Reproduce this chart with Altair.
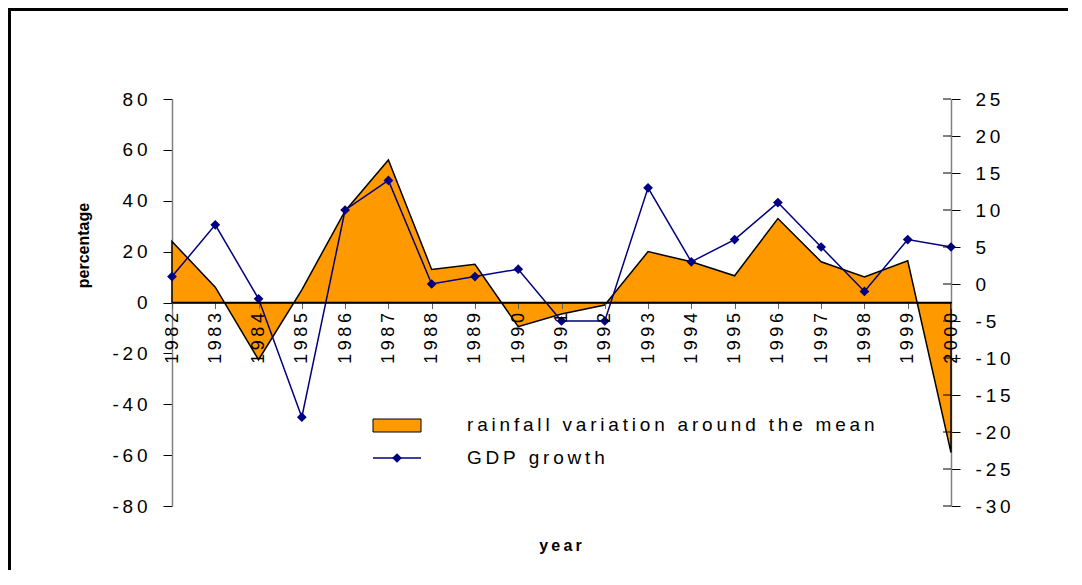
import altair as alt
import pandas as pd

# ---- data ----
years = list(range(1982, 2001))
rainfall = [24, 6, -22.5, 5, 36, 56, 13, 15, -9.5, -4.5, -1, 20, 16, 10.5, 33, 16, 10, 16.4, -59]
gdp = [1, 8, -2, -18, 10, 14, 0, 1, 2, -5, -5, 13, 3, 6, 11, 5, -1, 6, 5]
left_ticks = [-80, -60, -40, -20, 0, 20, 40, 60, 80]
right_ticks = [-30, -25, -20, -15, -10, -5, 0, 5, 10, 15, 20, 25]
legend_labels = ["rainfall variation around the mean", "GDP growth"]
x_title = "year"
y_title = "percentage"

W, H = 779, 407
PAD_L, PAD_T, PAD_R, PAD_B = 164, 91, 117, 64
FONT = "Liberation Sans"
ORANGE = "#FF9900"
NAVY = "#000080"
THIN = "\u2009"


def spaced(s):
    return (THIN + " " + THIN).join(THIN.join(w) for w in s.split(" "))


LABEL_EXPR = "join(split(toString(datum.value), ''), '" + THIN + "')"

df = pd.DataFrame({"year": years, "rainfall": rainfall, "gdp": gdp})
tick_df = pd.DataFrame({"gdp": right_ticks})
one = pd.DataFrame({"a": [0]})

x_enc = alt.X(
    "year:Q",
    scale=alt.Scale(domain=[1982, 2000], nice=False, zero=False),
    axis=alt.Axis(
        values=years, labelExpr=LABEL_EXPR, labelAngle=270, labelFont=FONT,
        labelFontSize=18, labelColor="black", labelPadding=4, labelOverlap=False,
        labelFlush=False, tickSize=6, tickColor="#606060", domainColor="black",
        domainWidth=1.5, offset=-203.5, zindex=1, grid=False,
        title=spaced(x_title), titleFont=FONT, titleFontSize=16,
        titleFontWeight="bold", titleColor="black", titleX=388, titleY=242.5,
        titleBaseline="middle", titleAlign="center",
    ),
)

area = alt.Chart(df).mark_area(
    fill=ORANGE, fillOpacity=1, stroke="black", strokeWidth=1.5
).encode(
    x=x_enc,
    y=alt.Y(
        "rainfall:Q",
        scale=alt.Scale(domain=[-80, 80], nice=False),
        axis=alt.Axis(
            orient="left", values=left_ticks, labelExpr=LABEL_EXPR, labelFont=FONT,
            labelFontSize=19, labelColor="black", labelPadding=16, tickSize=9,
            tickColor="black", domainColor="#808080", domainWidth=1.5, grid=False,
            labelOverlap=False,
            title=y_title, titleFont=FONT, titleFontSize=16, titleFontWeight="bold",
            titleColor="black", titleX=-89, titleY=146, titleAlign="center",
            titleBaseline="middle", titleAngle=270,
        ),
    ),
)

y_right = alt.Y(
    "gdp:Q",
    scale=alt.Scale(domain=[-30, 25], nice=False),
    axis=alt.Axis(
        orient="right", values=right_ticks, labelExpr=LABEL_EXPR, labelFont=FONT,
        labelFontSize=19, labelColor="black", labelPadding=15, tickSize=9,
        tickColor="black", domainColor="#808080", domainWidth=1.5, grid=False,
        labelOverlap=False, labelFlush=False, title=None,
    ),
)

gdp_line = alt.Chart(df).mark_line(
    color=NAVY, strokeWidth=1.5,
    point=alt.OverlayMarkDef(shape="diamond", filled=True, size=95, color=NAVY),
).encode(x=alt.X("year:Q"), y=y_right)

inner_ticks = alt.Chart(tick_df).mark_rule(color="black", strokeWidth=1).encode(
    y=y_right, x=alt.value(W - 8), x2=alt.value(W)
)

gdp_group = alt.layer(gdp_line, inner_ticks)

left_border = alt.Chart(one).mark_rule(color="black", strokeWidth=3).encode(
    x=alt.value(-PAD_L + 1.5), y=alt.value(-PAD_T), y2=alt.value(H + PAD_B)
)
top_border = alt.Chart(one).mark_rule(color="black", strokeWidth=3).encode(
    x=alt.value(-PAD_L), x2=alt.value(W + PAD_R), y=alt.value(-PAD_T + 1.5)
)

leg_rect = alt.Chart(one).mark_rect(fill=ORANGE, stroke="black", strokeWidth=1).encode(
    x=alt.value(201), x2=alt.value(249), y=alt.value(320), y2=alt.value(333)
)
leg_line = alt.Chart(one).mark_rule(color=NAVY, strokeWidth=1.5).encode(
    x=alt.value(201), x2=alt.value(249), y=alt.value(359)
)
leg_diamond = alt.Chart(one).mark_point(
    shape="diamond", filled=True, color=NAVY, size=95, opacity=1
).encode(x=alt.value(225), y=alt.value(359))
leg_text1 = alt.Chart(one).mark_text(
    align="left", baseline="middle", font=FONT, fontSize=19, color="black"
).encode(x=alt.value(295), y=alt.value(326), text=alt.value(spaced(legend_labels[0])))
leg_text2 = alt.Chart(one).mark_text(
    align="left", baseline="middle", font=FONT, fontSize=19, color="black"
).encode(x=alt.value(295), y=alt.value(359), text=alt.value(spaced(legend_labels[1])))

chart = alt.layer(
    left_border, top_border, area, gdp_group,
    leg_rect, leg_line, leg_diamond, leg_text1, leg_text2,
).resolve_scale(y="independent").properties(
    width=W, height=H,
    padding={"left": PAD_L, "top": PAD_T, "right": PAD_R, "bottom": PAD_B},
    autosize=alt.AutoSizeParams(type="none"),
).configure_view(stroke=None)

chart.save("out.html", embed_options={"renderer": "svg", "actions": False})
